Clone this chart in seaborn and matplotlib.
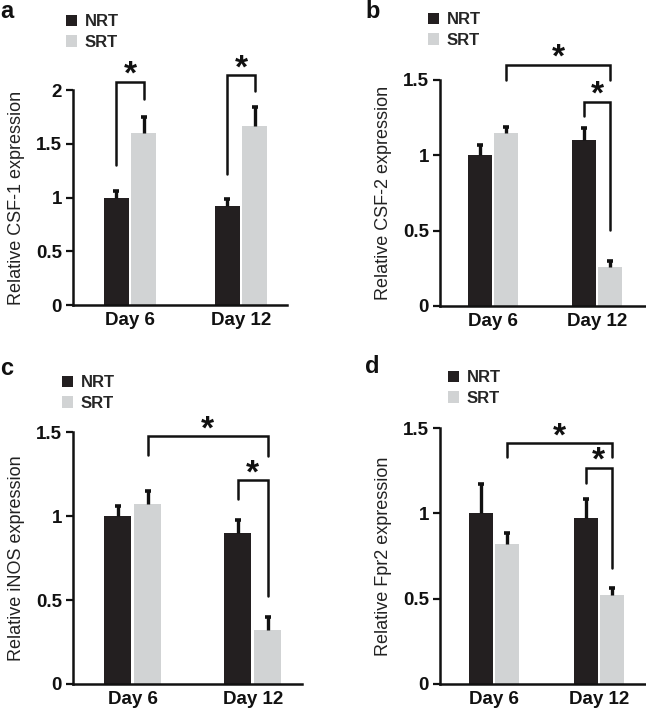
import matplotlib
matplotlib.use("Agg")
import matplotlib.pyplot as plt
import seaborn as sns
import pandas as pd
import numpy as np

sns.set_theme(style="ticks")
plt.rcParams['font.family'] = ['Liberation Sans', 'DejaVu Sans']

days = ["Day 6", "Day 12"]
groups = ["NRT", "SRT"]

# Panel a: CSF-1
a_nrt = [1.00, 0.92]
a_srt = [1.60, 1.67]
a_nrt_err = [0.06, 0.07]
a_srt_err = [0.15, 0.17]

# Panel b: CSF-2
b_nrt = [1.00, 1.10]
b_srt = [1.145, 0.26]
b_nrt_err = [0.07, 0.08]
b_srt_err = [0.045, 0.04]

# Panel c: iNOS
c_nrt = [1.00, 0.90]
c_srt = [1.075, 0.32]
c_nrt_err = [0.06, 0.075]
c_srt_err = [0.075, 0.08]

# Panel d: Fpr2
d_nrt = [1.00, 0.97]
d_srt = [0.82, 0.52]
d_nrt_err = [0.17, 0.115]
d_srt_err = [0.065, 0.04]

palette = {"NRT": "#231f20", "SRT": "#d1d3d4"}
W, H = 646, 713

def fx(px):
    return px / W

def fy(py):
    return 1 - py / H

panels = [
    dict(letter="a", label="Relative CSF-1 expression", nrt=a_nrt, srt=a_srt,
         nerr=a_nrt_err, serr=a_srt_err, ymax=2.0, yticks=[0, 0.5, 1, 1.5, 2],
         rect=[73/W, 0.572, 214/W, 0.3015], xlim=(-0.514, 1.414),
         letterpos=(0, 0), legpos=(66, 14)),
    dict(letter="b", label="Relative CSF-2 expression", nrt=b_nrt, srt=b_srt,
         nerr=b_nrt_err, serr=b_srt_err, ymax=1.5, yticks=[0, 0.5, 1, 1.5],
         rect=[440/W, 0.571, 205/W, 0.317], xlim=(-0.51, 1.46),
         letterpos=(365, 0), legpos=(428, 12)),
    dict(letter="c", label="Relative iNOS expression", nrt=c_nrt, srt=c_srt,
         nerr=c_nrt_err, serr=c_srt_err, ymax=1.5, yticks=[0, 0.5, 1, 1.5],
         rect=[73/W, 0.0407, 229/W, 0.353], xlim=(-0.50, 1.41),
         letterpos=(0, 357), legpos=(62, 375)),
    dict(letter="d", label="Relative Fpr2 expression", nrt=d_nrt, srt=d_srt,
         nerr=d_nrt_err, serr=d_srt_err, ymax=1.5, yticks=[0, 0.5, 1, 1.5],
         rect=[440/W, 0.0407, 205/W, 0.359], xlim=(-0.514, 1.44),
         letterpos=(365, 355), legpos=(448, 370)),
]

# brackets: (left bar, left bottom y, right bar, right bottom y, top y)
bracket_specs = {
    "a": [("0N", 1.30, "0S", 1.92, 2.08), ("1N", 1.22, "1S", 1.99, 2.14)],
    "b": [("0S", 1.50, "1S", 1.50, 1.60), ("1N", 1.257, "1S", 0.504, 1.356)],
    "c": [("0S", 1.363, "1S", 1.357, 1.476), ("1N", 1.104, "1S", 0.525, 1.215)],
    "d": [("0S", 1.329, "1S", 1.329, 1.412), ("1N", 1.179, "1S", 0.682, 1.266)],
}

fig = plt.figure(figsize=(6.46, 7.13), dpi=100)
ink = "#111111"

for p in panels:
    ax = fig.add_axes(p["rect"])
    df = pd.DataFrame({
        "Day": days * 2,
        "Group": ["NRT"] * 2 + ["SRT"] * 2,
        "Value": list(p["nrt"]) + list(p["srt"]),
        "Err": list(p["nerr"]) + list(p["serr"]),
    })
    sns.barplot(data=df, x="Day", y="Value", hue="Group", order=days,
                hue_order=groups, palette=palette, width=0.5, gap=0.1,
                errorbar=None, saturation=1, ax=ax, legend=True, linewidth=0)
    centers = {}
    bars = [b for b in ax.patches if b.get_height() > 0]
    for bar in bars:
        cx = bar.get_x() + bar.get_width() / 2
        h = bar.get_height()
        row = df.loc[np.isclose(df["Value"], h)].iloc[0]
        key = ("0" if row["Day"] == "Day 6" else "1") + row["Group"][0]
        centers[key] = cx
        top = h + row["Err"]
        ax.errorbar([cx], [top], yerr=[[row["Err"]], [0]], fmt="none",
                    ecolor=ink, elinewidth=2.4, capsize=0, clip_on=False,
                    zorder=3)
        ax.plot([cx], [top], marker="_", markersize=5, mew=2.6, color=ink,
                clip_on=False, zorder=3)
    ax.set_xlim(*p["xlim"])
    ax.set_ylim(0, p["ymax"])
    ax.set_yticks(p["yticks"])
    ax.set_yticklabels([("%g" % t) for t in p["yticks"]], fontsize=13.5,
                       fontweight="bold", color=ink)
    ax.set_xticks([0, 1])
    ax.set_xticklabels(days, fontsize=13.5, fontweight="bold", color=ink)
    ax.tick_params(axis="x", length=0, pad=5)
    ax.tick_params(axis="y", length=5, width=1.6, color=ink, pad=3)
    ax.set_xlabel("")
    ax.set_ylabel(p["label"], fontsize=13, color="#222222", labelpad=8)
    for s in ["top", "right"]:
        ax.spines[s].set_visible(False)
    for s in ["left", "bottom"]:
        ax.spines[s].set_linewidth(1.8)
        ax.spines[s].set_color(ink)
    handles, labels = ax.get_legend_handles_labels()
    ax.legend(handles, labels, loc="upper left",
              bbox_to_anchor=(fx(p["legpos"][0]), fy(p["legpos"][1])),
              bbox_transform=fig.transFigure, borderpad=0, borderaxespad=0,
              frameon=False, handlelength=0.66, handleheight=0.66,
              handletextpad=0.45, labelspacing=0.35,
              prop={"weight": "bold", "size": 12, "family": "Liberation Sans"})
    for (kl, yl, kr, yr, yt) in bracket_specs[p["letter"]]:
        xl = centers[kl]
        xr = centers[kr]
        ax.plot([xl, xl, xr, xr], [yl, yt, yt, yr], color=ink,
                lw=1.8, clip_on=False, solid_joinstyle="miter")
        ax.annotate("*", xy=((xl + xr) / 2, yt), xytext=(0, -1.5),
                    textcoords="offset points", ha="center", va="baseline",
                    fontsize=24, fontweight="bold", color=ink,
                    annotation_clip=False)
    fig.text(fx(p["letterpos"][0]), fy(p["letterpos"][1]), p["letter"],
             fontsize=17, fontweight="bold", ha="left", va="top", color=ink)

fig.savefig("out.png", dpi=100)
